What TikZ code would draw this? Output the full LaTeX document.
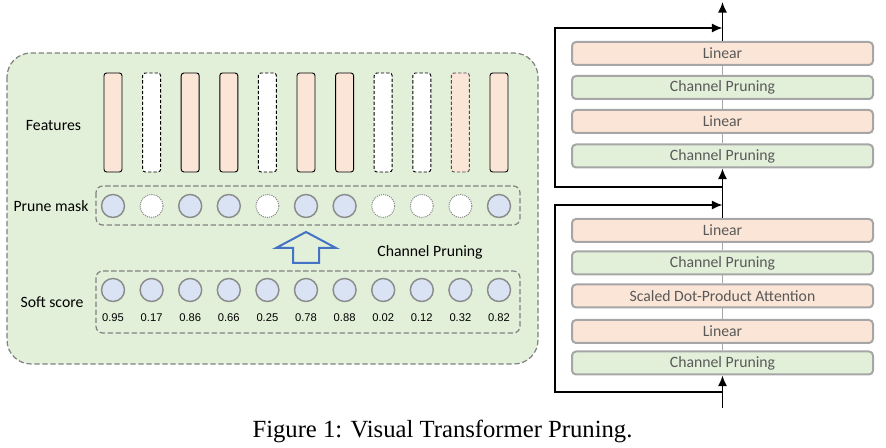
\documentclass[tikz,border=0pt]{standalone}
\usepackage{fontspec}
\setmainfont{Liberation Serif}
\newfontfamily\labelfont{Carlito}
\newfontfamily\numfont{Liberation Sans}
\usetikzlibrary{arrows.meta,calc}
\definecolor{bggreen}{HTML}{E2F0D9}
\definecolor{featpink}{HTML}{FBE5D6}
\definecolor{maskblue}{HTML}{DAE3F3}
\definecolor{arrowblue}{HTML}{4472C4}
\definecolor{layergray}{HTML}{A6A6A6}
\definecolor{circlegray}{HTML}{8C8C8C}
\definecolor{textgray}{HTML}{595959}
\def\colsep{38.6}
\tikzset{
	every node/.style={
		font=\labelfont\fontsize{11.8}{14}\selectfont
	},
	feat/.style={
		shape=rectangle,
		minimum width=13.5pt,
		minimum height=74.25pt,
		inner sep=0pt,
		rounded corners=2pt,
		draw=black,
		line width=0.7pt,
		fill=featpink
	},
	featoff/.style={
		feat,
		fill=white,
		dash pattern=on 2.5pt off 1.5pt
	},
	featweak/.style={
		feat,
		draw=black!70,
		dash pattern=on 2.5pt off 1.5pt
	},
	maskon/.style={
		shape=circle,
		minimum size=17.25pt,
		inner sep=0pt,
		draw=circlegray,
		line width=1.1pt,
		fill=maskblue
	},
	maskoff/.style={
		maskon,
		fill=white,
		line width=0.8pt,
		dash pattern=on 0.8pt off 0.8pt
	},
	score/.style={
		font=\numfont\fontsize{8.4}{10}\selectfont
	},
	group/.style={
		draw=gray,
		line width=0.9pt,
		dash pattern=on 4pt off 2pt,
		rounded corners=5pt
	},
	layer/.style={
		shape=rectangle,
		minimum width=225.75pt,
		minimum height=17.25pt,
		inner sep=0pt,
		rounded corners=3pt,
		draw=layergray,
		line width=1.5pt,
		text=textgray
	},
	linear/.style={layer, fill=featpink},
	prune/.style={layer, fill=bggreen},
	link/.style={draw=layergray, line width=0.5pt},
	flow/.style={-{Latex[length=8pt,width=7pt]}, line width=1.3pt}
}

\begin{document}
\begin{tikzpicture}[x=0.75pt,y=-0.75pt]
	\useasboundingbox (0,0) rectangle (886,448);
	
	\draw[group, fill=bggreen, rounded corners=18pt] (7,53) rectangle (538,364);
	\draw[group] (96,186) rectangle (520,225);
	\draw[group] (96,271) rectangle (520,333);
	
	\foreach \i / \s in {1/feat,2/featoff,3/feat,4/feat,5/featoff,6/feat,7/feat,8/featoff,9/featoff,10/featweak,11/feat}
	\node[\s] (F-\i) at (113+\colsep*\i-\colsep,122.5) {};
	
	\foreach \i / \s in {1/maskon,2/maskoff,3/maskon,4/maskon,5/maskoff,6/maskon,7/maskon,8/maskoff,9/maskoff,10/maskoff,11/maskon}
	\node[\s] (M-\i) at (113+\colsep*\i-\colsep,206) {};
	
	\foreach \i / \v in {1/0.95,2/0.17,3/0.86,4/0.66,5/0.25,6/0.78,7/0.88,8/0.02,9/0.12,10/0.32,11/0.82}
	{
		\node[maskon] (S-\i) at (113+\colsep*\i-\colsep,290) {};
		\node[score] (V-\i) at (113+\colsep*\i-\colsep,318) {\v};
	}
	
	\node (feat-label) at (53.5,126) {Features};
	\node (mask-label) at (51,206) {Prune mask};
	\node (score-label) at (52,302) {Soft score};
	\node (cp-label) at (430,252) {Channel Pruning};
	
	\draw[arrowblue, line width=1.5pt, line join=miter]
	(293,263) -- (293,248) -- (276,248) -- (306,232) -- (336,248) -- (319,248) -- (319,263) -- cycle;
	
	\node[linear] (U-1) at (722.5,53.5) {Linear};
	\node[prune] (U-2) at (722.5,87.5) {Channel Pruning};
	\node[linear] (U-3) at (722.5,121.5) {Linear};
	\node[prune] (U-4) at (722.5,156) {Channel Pruning};
	
	\node[linear] (L-1) at (722.5,230.5) {Linear};
	\node[prune] (L-2) at (722.5,263) {Channel Pruning};
	\node[linear] (L-3) at (722.5,296) {Scaled Dot-Product Attention};
	\node[linear] (L-4) at (722.5,331.5) {Linear};
	\node[prune] (L-5) at (722.5,363) {Channel Pruning};
	
	\foreach \a / \b in {1/2,2/3,3/4}
	\path[link] (U-\a.south) -- (U-\b.north);
	\foreach \a / \b in {1/2,2/3,3/4,4/5}
	\path[link] (L-\a.south) -- (L-\b.north);
	
	\coordinate (in) at (722.5,408);
	\coordinate (j1) at (722.5,392);
	\coordinate (j2) at (722.5,205);
	\coordinate (j3) at (722.5,187);
	\coordinate (j4) at (722.5,28);
	\coordinate (out) at (722.5,2);
	
	\draw[flow] (in) -- (L-5.south);
	\draw[flow] (j1) -- ++(-167.5,0) |- (j2);
	\draw[flow] (L-1.north) -- (U-4.south);
	\draw[flow] (j3) -- ++(-167.5,0) |- (j4);
	\draw[flow] (U-1.north) -- (out);
	
	\node[font=\fontsize{18.5}{22}\selectfont, anchor=base] (caption) at (442.5,438) {Figure 1: Visual Transformer Pruning.};
\end{tikzpicture}
\end{document}
